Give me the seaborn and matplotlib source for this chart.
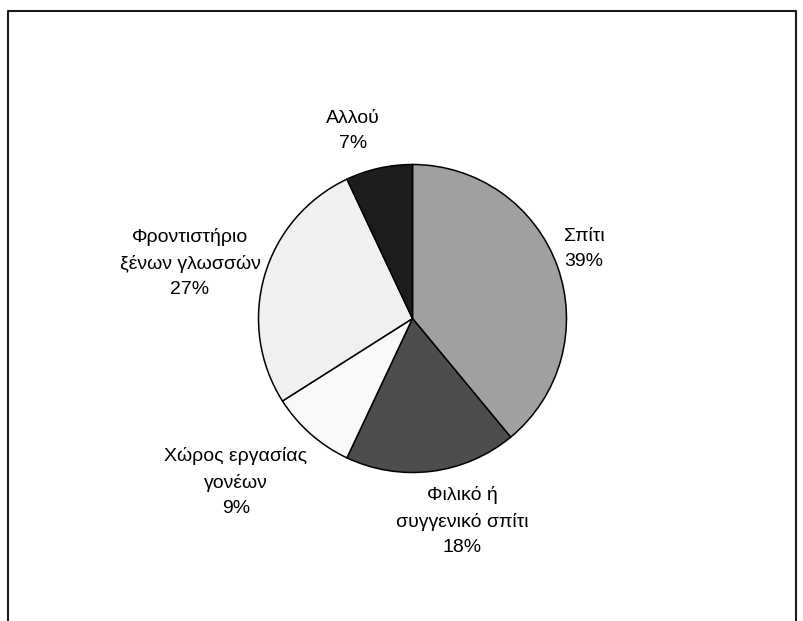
import matplotlib
matplotlib.use("Agg")
import matplotlib.pyplot as plt
import seaborn as sns
from matplotlib.lines import Line2D

sns.set_theme(style="white")
plt.rcParams['font.family'] = ['Liberation Sans', 'DejaVu Sans']

categories = ["Σπίτι", "Φιλικό ή\nσυγγενικό σπίτι", "Χώρος εργασίας\nγονέων",
              "Φροντιστήριο\nξένων γλωσσών", "Αλλού"]
values = [39, 18, 9, 27, 7]
colors = ["#A0A0A0", "#4D4D4D", "#F9F9F9", "#F0F0F0", "#1C1C1C"]
label_pos = [(1.114, 0.454), (0.325, -1.315), (-1.146, -1.062),
             (-1.445, 0.36), (-0.386, 1.218)]

W, H = 804, 621
fig = plt.figure(figsize=(W / 100, H / 100), dpi=100)
fig.patch.set_facecolor("white")

cx, cy, r = 412.5, 318.5, 154.0
ax = fig.add_axes([(cx - r) / W, (H - cy - r) / H, 2 * r / W, 2 * r / H])
ax.pie(values, colors=colors, startangle=90, counterclock=False, radius=1,
       wedgeprops=dict(edgecolor="black", linewidth=1.1))
ax.set_xlim(-1, 1)
ax.set_ylim(-1, 1)
ax.set_aspect("auto")
ax.axis("off")

total = sum(values)
for cat, v, (x, y) in zip(categories, values, label_pos):
    ax.text(x, y, f"{cat}\n{round(100 * v / total)}%", ha="center", va="center",
            fontsize=14, color="black", linespacing=1.62, clip_on=False)

# outer frame (bottom edge cut off)
xl, xr = 8 / W, 796 / W
yt = 1 - 11 / H
fig.add_artist(Line2D([xl, xl, xr, xr], [0, yt, yt, 0], transform=fig.transFigure,
                      color="#1a1a1a", linewidth=1.5))

fig.savefig("out.png", dpi=100, facecolor="white")
